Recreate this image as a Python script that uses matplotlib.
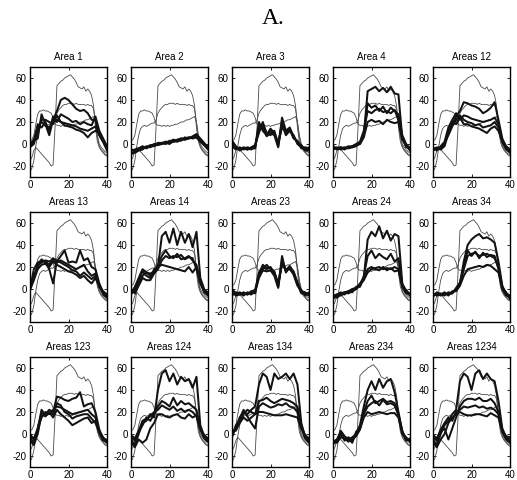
import numpy as np
import matplotlib
matplotlib.use("Agg")
import matplotlib.pyplot as plt

plt.rcParams['font.family'] = ['Liberation Sans', 'DejaVu Sans']
plt.rcParams['axes.unicode_minus'] = False

# sample positions
t_fine = np.arange(0, 41, 1)
t_coarse = np.arange(0, 41, 2)

# thin reference curves (same in every panel), x = 0..40
ref_peak = [-15, -12, -6, -3, -5, -7, -9, -11, -13, -15, -17, -20, -19, 15, 53, 55, 57, 58, 60, 61,
            62, 63, 61, 59, 56, 52, 51, 50, 52, 48, 50, 48, 44, 35, 15, 2, -3, -6, -8, -10, -11]
ref_early = [3, 4, 8, 18, 27, 30, 30, 31, 30, 30, 29, 28, 24, 18, 17, 17, 16, 17, 16, 17,
             16, 17, 17, 18, 18, 19, 20, 20, 21, 22, 22, 23, 24, 25, 20, 8, 0, -3, -5, -7, -8]
ref_plateau = [-25, -22, -15, -2, 8, 14, 16, 17, 16, 17, 18, 19, 19, 22, 28, 31, 33, 35, 36, 36,
               37, 37, 37, 36, 37, 36, 36, 36, 36, 35, 36, 35, 35, 32, 20, 6, -2, -5, -7, -9, -10]

# thick estimates per panel, x = 0, 2, ..., 40
area_1 = [
    [-2, 3, 5, 27, 18, 8, 22, 30, 40, 42, 40, 36, 32, 30, 31, 28, 22, 22, 8, 2, -4],
    [0, 2, 18, 15, 20, 12, 25, 20, 27, 25, 23, 20, 21, 18, 20, 18, 17, 25, 12, 5, -2],
    [-3, 0, 12, 22, 22, 20, 18, 26, 20, 17, 16, 15, 13, 12, 10, 6, 10, 12, 10, 3, -4],
    [0, 4, 15, 20, 17, 15, 20, 22, 20, 19, 18, 17, 16, 14, 13, 12, 14, 16, 8, 2, -6],
]
area_2 = [
    [-8, -7, -5, -4, -3, -2, -2, 0, 0, 1, 0, 3, 2, 4, 4, 5, 6, 8, 4, 0, -3],
    [-6, -5, -4, -3, -3, -1, -1, 1, 1, 2, 1, 2, 3, 5, 5, 6, 6, 7, 3, -1, -4],
    [-9, -8, -6, -5, -2, -3, -1, -1, 0, 2, 2, 4, 3, 3, 6, 5, 7, 9, 5, 1, -3],
    [-5, -6, -4, -2, -4, -2, 0, 0, 1, 0, 3, 2, 4, 5, 4, 6, 5, 6, 2, -1, -5],
]
area_3 = [
    [2, -3, -4, -4, -5, -4, -3, 20, 12, 8, 14, 10, -2, 24, 12, 15, 6, 2, -2, -4, -5],
    [0, -4, -5, -3, -4, -5, -2, 14, 18, 10, 8, 12, 0, 18, 8, 12, 8, 0, -3, -5, -3],
    [-2, -5, -3, -5, -3, -4, -4, 16, 15, 7, 10, 8, -3, 20, 10, 13, 5, 3, -4, -3, -4],
    [3, -2, -6, -4, -5, -3, -1, 10, 20, 9, 12, 9, 1, 15, 11, 14, 7, 1, -1, -6, -6],
]
area_4 = [
    [-4, -4, -3, -4, -3, -2, -1, 0, 8, 48, 50, 52, 48, 51, 47, 52, 46, 45, 5, -2, -5],
    [-3, -5, -4, -3, -4, -3, -2, 1, 10, 37, 33, 35, 30, 34, 28, 33, 30, 27, 8, 0, -4],
    [-5, -3, -5, -4, -2, -3, -1, 0, 6, 20, 22, 20, 21, 18, 22, 20, 19, 20, 4, -1, -6],
    [-2, -4, -3, -5, -3, -2, 0, 2, 12, 30, 28, 31, 32, 29, 30, 28, 31, 22, 6, -3, -3],
]
areas_12 = [
    [-5, -3, -4, 0, 12, 18, 25, 30, 38, 37, 35, 34, 32, 28, 30, 33, 38, 22, 5, -3, -6],
    [-3, -6, -2, 2, 15, 22, 28, 22, 26, 25, 23, 22, 21, 20, 21, 22, 24, 18, 3, -4, -8],
    [-6, -4, -5, -2, 10, 20, 18, 24, 18, 18, 16, 15, 14, 12, 10, 14, 16, 12, 2, -5, -7],
    [-4, -5, -3, 1, 8, 16, 22, 26, 22, 20, 19, 17, 18, 15, 16, 17, 20, 15, 4, -2, -5],
]
areas_13 = [
    [0, 18, 24, 26, 25, 22, 28, 25, 30, 35, 24, 25, 24, 35, 26, 28, 20, 18, 5, -3, -6],
    [2, 10, 22, 24, 26, 25, 27, 24, 26, 24, 22, 20, 18, 20, 22, 16, 12, 14, 3, -4, -7],
    [-1, 8, 18, 22, 23, 20, 25, 22, 20, 18, 16, 15, 13, 10, 12, 8, 5, 10, 2, -2, -5],
    [1, 12, 20, 27, 24, 18, 5, 26, 24, 22, 20, 17, 16, 12, 15, 12, 9, 12, 4, -5, -8],
]
areas_14 = [
    [-4, 2, 10, 18, 15, 14, 16, 20, 48, 52, 42, 55, 40, 52, 42, 50, 38, 52, 10, 0, -5],
    [-2, -3, 5, 12, 15, 12, 15, 22, 30, 35, 30, 28, 32, 27, 28, 30, 26, 22, 8, -2, -4],
    [-5, 0, 8, 16, 12, 10, 18, 20, 22, 21, 20, 19, 18, 17, 16, 20, 15, 20, 5, -3, -6],
    [0, -4, 3, 10, 8, 8, 14, 18, 26, 30, 28, 30, 29, 31, 27, 29, 28, 18, 6, -1, -3],
]
areas_23 = [
    [0, -4, -5, -4, -5, -3, -4, 15, 20, 18, 20, 14, 2, 30, 15, 20, 16, 6, -2, -3, -5],
    [-4, -5, -3, -5, -4, -5, -2, 12, 18, 22, 18, 15, 5, 22, 18, 18, 14, 4, -3, -5, -4],
    [-6, -3, -4, -6, -3, -4, -3, 10, 17, 16, 17, 12, 1, 26, 17, 21, 15, 5, -4, -4, -6],
    [-2, -6, -5, -3, -5, -2, -1, 14, 22, 19, 19, 16, 4, 24, 16, 19, 13, 3, -1, -6, -3],
]
areas_24 = [
    [-6, -5, -4, -3, -2, 0, 1, 5, 10, 45, 52, 48, 57, 46, 53, 44, 50, 48, 5, -2, -5],
    [-8, -5, -6, -4, -3, -1, 0, 3, 12, 30, 35, 28, 32, 29, 27, 32, 25, 28, 4, -3, -6],
    [-5, -8, -5, -3, -4, -2, 0, 4, 8, 15, 18, 19, 20, 18, 19, 18, 20, 18, 3, -1, -5],
    [-9, -6, -3, -5, -2, -3, 2, 2, 10, 18, 20, 18, 17, 20, 17, 19, 16, 17, 2, -4, -4],
]
areas_34 = [
    [-5, -4, -6, -4, -5, -3, -1, 5, 25, 40, 45, 48, 50, 46, 47, 45, 42, 25, 3, -5, -8],
    [-6, -5, -4, -6, -3, -4, 0, 4, 18, 30, 32, 33, 30, 31, 32, 30, 28, 20, 2, -4, -6],
    [-4, -6, -5, -3, -6, -2, -2, 3, 12, 18, 19, 20, 21, 20, 22, 21, 18, 15, 1, -3, -9],
    [-7, -3, -5, -5, -4, -4, 1, 6, 20, 35, 30, 34, 28, 33, 29, 31, 30, 18, 0, -6, -7],
]
areas_123 = [
    [-3, -8, 2, 20, 18, 22, 20, 34, 33, 31, 30, 32, 33, 38, 25, 27, 28, 20, 4, -4, -6],
    [0, -5, 5, 15, 20, 18, 22, 25, 24, 22, 20, 18, 19, 20, 21, 22, 18, 15, 2, -3, -7],
    [-6, -10, 0, 18, 16, 20, 15, 22, 18, 15, 12, 8, 10, 12, 14, 15, 10, 12, 3, -5, -8],
    [-2, -4, 4, 22, 17, 19, 18, 28, 26, 20, 18, 14, 16, 17, 18, 18, 14, 10, 1, -6, -5],
]
areas_124 = [
    [-5, -10, 0, 10, 12, 18, 15, 40, 55, 58, 48, 55, 45, 52, 48, 50, 42, 52, 8, -2, -6],
    [-3, -6, 2, 8, 15, 12, 18, 25, 30, 28, 25, 33, 26, 30, 27, 28, 25, 22, 6, -3, -5],
    [-8, -12, -5, -8, -5, 5, 10, 18, 18, 16, 15, 17, 18, 15, 14, 18, 15, 17, 4, -4, -7],
    [-1, -4, 3, 12, 14, 16, 20, 22, 26, 24, 22, 25, 21, 23, 20, 22, 20, 16, 5, -1, -4],
]
areas_134 = [
    [0, 5, 15, 20, 18, 22, 25, 45, 55, 52, 40, 55, 50, 52, 55, 50, 55, 45, 10, -3, -6],
    [-3, 8, 12, 18, 22, 20, 18, 30, 31, 33, 30, 28, 30, 32, 31, 30, 28, 25, 8, -2, -5],
    [2, 3, 10, 15, 12, 15, 18, 20, 20, 19, 18, 17, 17, 17, 18, 17, 16, 15, 5, -4, -8],
    [-2, 6, 14, 22, 16, 10, 5, 25, 28, 26, 24, 25, 27, 26, 28, 25, 24, 20, 6, -1, -4],
]
areas_234 = [
    [-8, -6, 3, -2, -5, -3, 0, 8, 25, 40, 48, 40, 50, 42, 48, 50, 38, 20, 2, -4, -6],
    [-9, -7, 0, -5, -3, -6, -1, 5, 20, 30, 35, 28, 30, 32, 29, 30, 28, 18, 1, -5, -5],
    [-6, -8, -3, -4, -7, -4, -2, 4, 15, 20, 18, 19, 20, 19, 18, 19, 19, 15, 0, -3, -7],
    [-7, -5, 1, -6, -4, -8, 2, 6, 18, 25, 28, 30, 26, 31, 27, 28, 26, 17, 3, -6, -4],
]
areas_1234 = [
    [-5, -10, 0, 8, 12, 18, 22, 48, 55, 52, 40, 55, 58, 50, 55, 50, 48, 30, 5, -3, -6],
    [-3, -6, 2, 5, -5, 5, 15, 25, 30, 32, 32, 31, 33, 30, 30, 32, 28, 20, 4, -4, -5],
    [-8, -12, -5, 0, 10, 15, 18, 20, 18, 17, 17, 18, 18, 17, 16, 19, 17, 15, 2, -5, -8],
    [-1, -4, 4, 10, 15, 12, 20, 22, 25, 24, 25, 26, 24, 25, 23, 24, 22, 18, 3, -2, -3],
]

panel_titles = ["Area 1", "Area 2", "Area 3", "Area 4", "Areas 12",
                "Areas 13", "Areas 14", "Areas 23", "Areas 24", "Areas 34",
                "Areas 123", "Areas 124", "Areas 134", "Areas 234", "Areas 1234"]
panel_data = [area_1, area_2, area_3, area_4, areas_12,
              areas_13, areas_14, areas_23, areas_24, areas_34,
              areas_123, areas_124, areas_134, areas_234, areas_1234]

fig = plt.figure(figsize=(5.17, 4.8), dpi=100)

col_left = [30, 131, 232, 333, 433]   # pixel positions of panel left edges
row_top = [67, 212, 357]
pw, ph = 77, 110

for k, (title, est) in enumerate(zip(panel_titles, panel_data)):
    r, c = divmod(k, 5)
    ax = fig.add_axes([col_left[c] / 517, 1 - (row_top[r] + ph) / 480, pw / 517, ph / 480])

    for ref in (ref_peak, ref_early, ref_plateau):
        ax.plot(t_fine, ref, color='#4a4a4a', linewidth=0.6)
    for curve in est:
        ax.plot(t_coarse, curve, color='#121212', linewidth=1.45)

    ax.set_xlim(0, 40)
    ax.set_ylim(-30, 70)
    ax.set_xticks([0, 20, 40])
    ax.set_yticks([-20, 0, 20, 40, 60])
    ax.tick_params(direction='in', top=True, right=True, length=2.5, width=0.6,
                   labelsize=7, pad=2.5)
    for sp in ax.spines.values():
        sp.set_linewidth(1.0)
    ax.set_title(title, fontsize=7, pad=5)

fig.text(0.528, 0.962, "A.", fontsize=17, family='Liberation Serif', ha='center', va='center')

fig.savefig("out.png", dpi=100)
